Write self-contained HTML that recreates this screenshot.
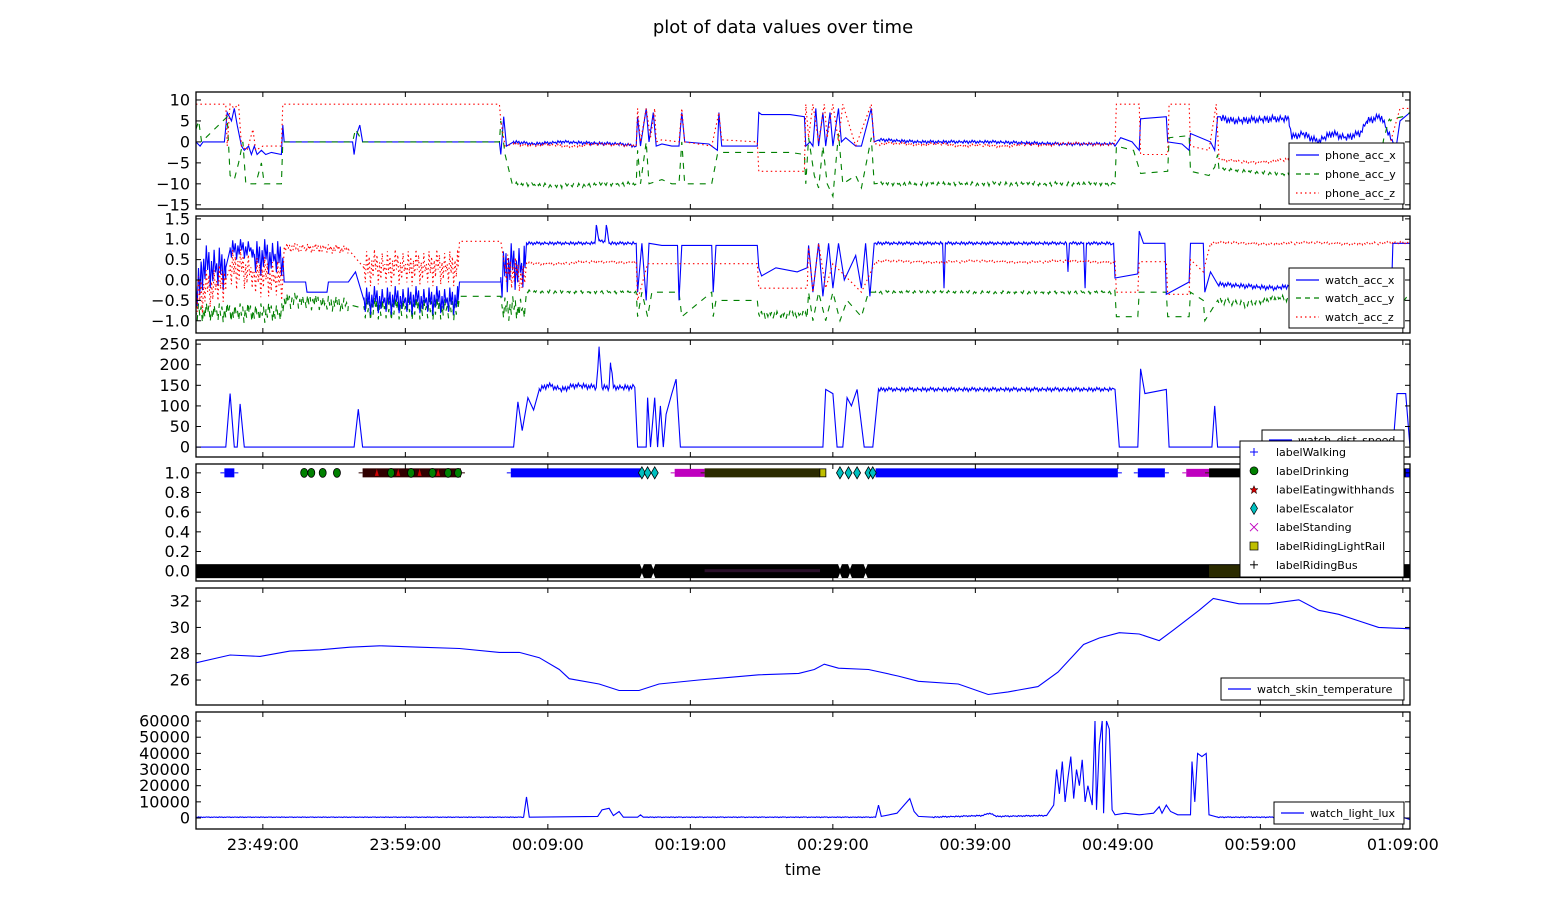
<!DOCTYPE html>
<html><head><meta charset="utf-8">
<style>
html,body{margin:0;padding:0;background:#fff;}
svg{display:block;font-family:"DejaVu Sans","Liberation Sans",sans-serif;}
</style></head>
<body>
<svg id="fig" width="1566" height="922" viewBox="0 0 1566 922" xmlns="http://www.w3.org/2000/svg">
<rect width="1566" height="922" fill="#fff"/>
<text x="783" y="33" font-size="18" text-anchor="middle">plot of data values over time</text>
<text x="803" y="875" font-size="16" text-anchor="middle">time</text>
<g id="root"></g>
</svg>
<script>
// ---- shared x axis ----
const xTickLabels = ["23:49:00","23:59:00","00:09:00","00:19:00","00:29:00","00:39:00","00:49:00","00:59:00","01:09:00"];
const xTickTimes = [9,19,29,39,49,59,69,79,89]; // minutes since 23:40
// ---- panel 1: phone acc ----
const phoneT = [4.3,4.6,4.8,6.3,6.5,6.8,7.0,7.2,7.5,7.7,8.0,8.2,8.4,8.6,8.9,9.2,9.6,10.3,10.4,10.5,15.3,15.4,15.6,15.8,16.0,25.6,25.7,25.9,26.1,26.6,28,30,32,34,35.2,35.3,35.5,35.9,36.1,36.4,36.6,37.0,37.7,38.2,38.4,38.6,40.3,40.9,41.0,41.2,42,43.7,43.8,44.0,46,47.0,47.1,47.4,47.6,47.8,48.0,48.3,48.5,48.8,49.0,49.4,49.6,49.9,50.6,51.0,51.7,51.9,52.3,55,60,65,68.7,68.8,69.2,70,70.5,70.6,72.4,72.5,73.5,74.0,74.1,75.5,75.8,76.0,77,80,81,81.2,82,83,84,85,86,86.5,87.5,88.0,88.5,88.8,89.5];
const phoneX = [0,-1,0,0,7,5,8,4,-1,-2,-1,-3,-1,-3,-2,-3,-2.5,-3,4,0,0,-3,2,4,0,0,-3,6,-1,0,-0.5,0,-0.3,-0.5,-1,6,-1,8,0,7,-1,-0.5,-1,-1,7,0,-0.5,-2,7,-1,-1,-1,7,6.5,6.5,6,-1,0,-1,8,-1,7,-1,7,-1,8,0,1,-1,-1,8,0,0.5,0,0,-0.5,-0.5,-1,1,0,-2,5.5,6,0,-0.5,-2,2,0,-2,6,5,5.5,5.5,1,2,0,2,1,2,5,6,2,-2,5,7];
const phoneYT = [4.3,4.5,4.7,5,6.5,6.7,7.0,7.3,7.6,7.8,8.5,8.9,9.1,10.3,10.4,15.3,15.5,16.0,25.6,25.7,26.0,26.5,30,34,35.2,35.3,35.5,35.9,36.1,37,37.7,38.2,38.4,38.6,40.5,40.9,41.2,46,47,47.1,47.3,47.7,48,48.3,48.6,49.0,49.4,49.7,50.6,51.0,51.7,51.9,55,60,65,68.8,68.9,70.1,70.6,72.5,72.6,74.0,74.1,75.4,75.8,76.0,76.1,78,82,86,87,88,89,89.5];
const phoneY = [3,5,0,1,6,-8,-9,-5,0,-10,-10,-5,-10,-10,0,0,3,0,0,5,-3,-10,-10.5,-10,-10,-2,-10,0,-10,-9,-10,-10,0,-10,-10,-3,-2.5,-2.5,-3,-10,1,-8,-11,-1,-10,-13,2,-10,-8,-11,1,-10,-10,-10,-10,-10,-1,-2,-7.5,-7,1,1.5,-7,-8,-6,-3,-6.5,-7,-8,-8,-8,5,6,7];
const phoneZT = [4.3,6.4,6.5,6.7,7.0,7.3,7.5,7.9,8.3,8.5,9.0,10.3,10.4,25.6,25.7,26.0,26.6,30,34,35.2,35.3,35.5,35.9,36.2,36.5,36.6,37,38.2,38.4,38.6,40.5,41,41.2,43.7,43.8,47,47.1,47.3,47.6,48,48.4,48.6,49,49.4,49.7,50.6,51.7,51.9,55,60,65,68.8,68.9,70.5,70.6,72.5,72.6,74.0,74.1,75.4,75.9,76.1,78,80,82,86,88,88.8,89.5];
const phoneZ = [9,9,-1,9,8,9,-1,-2,3,-2,-1,-1,9,9,5,-1,-0.5,-1,-0.5,-1,8,0,8,1,8,0,0.5,0,8,0,-1,7,0.5,0,-7,-7,9,1,9,0,9,1,9,0,9,-1,9,-0.5,-0.5,-1,-0.5,-0.5,9,9,-3,-3,9,9,-1,-2,9,-4,-5,-4.5,-4,-3,-2,8,8];
const phoneNoiseStart = [26.6,52.2,76.2];
const phoneNoiseEnd = [35.1,68.7,88.3];
const phoneXNoiseAmp = [0.4,0.4,0.9];
const phoneYNoiseAmp = [0.5,0.5,0.4];
const phoneZNoiseAmp = [0.4,0.4,0.4];
// ---- panel 2: watch acc ----
const watchXT = [4.3,4.6,4.7,6.4,6.7,8.3,8.4,10.4,10.5,12.0,12.1,13.5,13.6,15.0,15.5,16.1,22.7,22.8,25.7,26.0,27.4,27.5,32.3,32.4,32.6,33.0,33.1,33.3,35.2,35.3,35.6,35.9,36.1,37,38.1,38.2,38.4,40.5,40.6,40.8,43.7,43.8,44,45,46.5,47.2,47.3,47.6,48,48.3,48.7,49,49.4,49.8,50.6,51,51.3,51.6,51.9,56.7,56.8,56.9,65.4,65.5,65.6,66.6,66.7,66.8,68.7,68.8,70.4,70.5,70.8,72.3,72.4,74.0,74.1,75.0,75.1,75.5,76.0,78,80,81,84,86,88.2,88.3,89.5];
const watchX = [-0.2,-0.2,0.3,0.3,0.75,0.75,0.55,0.55,-0.05,-0.05,-0.3,-0.3,-0.05,-0.05,0.2,-0.5,-0.5,-0.05,-0.05,0.3,0.3,0.9,0.9,1.35,0.95,0.95,1.35,0.9,0.9,-0.3,0.9,-0.5,0.9,0.85,0.85,-0.5,0.85,0.85,-0.3,0.85,0.85,0.3,0.1,0.3,0.2,0.3,0.85,-0.3,0.9,-0.4,0.9,-0.2,0.9,0,0.6,-0.2,0.9,-0.4,0.9,0.9,-0.2,0.9,0.9,0.2,0.9,0.9,-0.2,0.9,0.9,0.05,0.15,1.2,0.9,0.9,-0.35,-0.05,0.9,0.9,-0.3,0.2,-0.1,-0.15,-0.2,-0.15,-0.2,-0.2,-0.25,0.9,0.9];
const watchXNoiseStart = [4.3,6.7,8.4,16.1,25.7,27.5,52.0,76.0];
const watchXNoiseEnd = [6.4,8.3,10.4,22.7,27.4,35.1,68.6,88.1];
const watchXNoiseAmp = [0.55,0.25,0.45,0.35,0.6,0.04,0.04,0.06];
const watchYT = [4.3,10.4,10.5,15,16.1,22.7,22.8,25.7,25.8,27.4,27.5,35.2,35.3,35.6,36,36.3,38.2,38.4,40.5,40.6,40.8,43.7,43.8,47.2,47.3,47.6,48.0,48.5,49,49.5,50,51,51.5,52,68.8,68.9,70.4,70.5,72.4,72.5,74,74.1,75,75.1,76,78,80,84,86,88,88.3,89.5];
const watchY = [-0.8,-0.8,-0.5,-0.6,-0.7,-0.7,-0.4,-0.4,-0.7,-0.7,-0.28,-0.3,-0.9,-0.3,-0.9,-0.3,-0.3,-0.9,-0.3,-0.9,-0.5,-0.5,-0.85,-0.85,-0.3,-1.0,-0.3,-1.0,-0.3,-1.0,-0.5,-0.9,-0.3,-0.3,-0.3,-0.9,-0.9,-0.3,-0.3,-0.9,-0.9,-0.3,-0.5,-1.0,-0.5,-0.6,-0.45,-0.45,-0.5,-0.3,-0.9,-0.3];
const watchYNoiseStart = [4.3,10.5,16.1,25.8,27.5,43.8,52.0,76.0];
const watchYNoiseEnd = [10.4,15,22.7,27.4,35.2,47.2,68.8,88.0];
const watchYNoiseAmp = [0.25,0.2,0.3,0.3,0.04,0.1,0.04,0.08];
const watchZT = [4.3,6.4,6.7,8.3,8.4,10.4,10.5,15,16.1,22.7,22.8,25.7,26,27.4,27.5,35.2,35.3,36,40.5,43.7,43.8,47.2,47.3,47.6,48,48.5,49,51,52,68.8,68.9,70.4,70.5,72.4,72.5,74,74.1,75,75.5,89.5];
const watchZ = [-0.4,0,0.3,0.2,0.1,0,0.8,0.75,0.3,0.3,0.95,0.95,0.3,0,0.4,0.45,-0.5,0.4,0.4,0.4,-0.2,-0.2,0.8,-0.3,0.9,-0.2,0.4,-0.3,0.45,0.45,-0.3,-0.3,0.45,0.45,-0.35,-0.35,0.5,0.2,0.9,0.9];
const watchZNoiseStart = [4.3,6.7,8.4,10.5,16.1,26,27.5,52,75.5];
const watchZNoiseEnd = [6.4,8.3,10.4,15,22.7,27.4,35.2,68.8,89.5];
const watchZNoiseAmp = [0.5,0.5,0.5,0.12,0.45,0.4,0.04,0.04,0.04];
// ---- panel 3: speed ----
const speedT = [4.3,6.4,6.7,7.0,7.2,7.4,7.7,15.4,15.7,16.0,26.6,26.9,27.2,27.6,28,28.4,29,30,31,32.4,32.6,32.8,33.3,33.4,33.6,35.1,35.3,35.9,36.0,36.2,36.5,36.7,36.9,37.1,37.3,37.7,38.0,38.3,48.3,48.5,49.0,49.3,49.7,50.0,50.3,50.7,51.2,51.8,52.2,68.8,69.1,70.4,70.6,70.9,72.4,72.6,75.6,75.8,76.0,88.3,88.6,89.2,89.5];
const speedV = [0,0,130,0,0,105,0,0,92,0,0,110,40,120,90,140,150,140,150,145,240,145,145,205,145,145,0,0,120,0,120,0,100,0,80,130,165,0,0,140,130,0,0,120,100,140,0,0,140,140,0,0,190,130,140,0,0,100,0,0,130,130,0];
const speedNoiseStart = [28.4,52.2];
const speedNoiseEnd = [35.0,68.7];
const speedNoiseAmp = [7,5];
// ---- panel 4: labels ----
const labelNames = ["labelWalking","labelDrinking","labelEatingwithhands","labelEscalator","labelStanding","labelRidingLightRail","labelRidingBus"];
const intervalLabel = [0,2,0,4,6,0,0,4,6];
const intervalStart = [6.3,16.0,26.4,37.9,40.0,52.0,70.4,73.8,75.4];
const intervalEnd = [7.0,22.9,35.5,40.0,48.1,69.0,72.3,75.4,89.5];
const pointLabel = [1,1,1,1,1,1,1,1,1,3,3,3,5,3,3,3,3,3];
const pointTime = [11.9,12.4,13.2,14.2,18.0,19.4,20.9,22.0,22.7,35.6,36.0,36.5,48.3,49.5,50.1,50.7,51.5,51.8];
const zeroGapTimes = [35.6,36.4,49.5,50.2,51.3];
// ---- panel 5: skin temperature ----
const tempT = [4.3,6.7,8.8,10.9,13.0,15.1,17.2,20.0,22.8,25.6,27.0,28.4,29.8,30.5,32.6,34.0,35.4,36.8,39.6,41.7,43.8,46.6,47.7,48.4,49.4,51.5,53.6,55.0,57.8,59.9,61.3,63.4,64.8,66.6,67.7,69.1,70.5,71.9,72.9,74.7,75.7,77.5,79.6,81.7,83.1,84.5,85.9,87.3,89.5];
const tempV = [27.3,27.9,27.8,28.2,28.3,28.5,28.6,28.5,28.4,28.1,28.1,27.7,26.8,26.1,25.7,25.2,25.2,25.7,26.0,26.2,26.4,26.5,26.8,27.2,26.9,26.8,26.3,25.9,25.7,24.9,25.1,25.5,26.6,28.7,29.2,29.6,29.5,29.0,29.8,31.3,32.2,31.8,31.8,32.1,31.3,31.0,30.5,30.0,29.9];
// ---- panel 6: light ----
const luxT = [4.3,27.3,27.5,27.7,32.5,32.8,33.3,33.6,34,34.3,35.3,35.5,35.7,52.0,52.2,52.4,53.5,54,54.4,54.7,55.0,56,59.5,60,60.5,64,64.5,64.7,64.9,65.1,65.3,65.5,65.7,65.9,66.1,66.3,66.5,66.7,66.9,67.2,67.4,67.5,67.7,67.9,68.0,68.2,68.4,68.6,68.8,69.5,70.5,71.5,71.9,72.1,72.4,72.7,73.2,74.1,74.2,74.4,74.6,74.9,75.2,75.4,76,89.0,89.5];
const luxV = [500,500,13000,500,1000,5000,6000,1500,4000,500,500,2000,500,500,8000,1000,3000,8000,12000,4000,1000,500,1500,3000,1000,1500,8000,30000,15000,35000,10000,25000,38000,12000,30000,20000,36000,10000,20000,8000,60000,5000,45000,60000,3000,60000,55000,5000,2000,3000,2000,3000,7000,3000,8000,4000,2000,2000,35000,10000,40000,38000,40000,2000,500,500,-1000];
const luxNoiseStart = [4.3,36,56,76];
const luxNoiseEnd = [27.2,51.9,63.9,89];
const luxNoiseAmp = [200,250,400,300];

const jitter = [0.2,-0.8,0.9,-0.3,0.6,-1,0.4,-0.5,1,-0.1,0.7,-0.9,0.3,-0.6,0.8,-0.2];
const NS = "http://www.w3.org/2000/svg";
const root = document.getElementById('root');
const X0 = 196, X1 = 1410;
function xs(t){ return 134.6 + t*14.25; }
const panels = [
 {top:92,bot:209,min:-16,max:11.9,ticks:[10,5,0,-5,-10,-15],fmt:v=>(v<0?'\u2212'+(-v):String(v))},
 {top:216,bot:333,min:-1.3,max:1.57,ticks:[1.5,1.0,0.5,0.0,-0.5,-1.0],fmt:v=>(v<0?'\u2212'+(-v).toFixed(1):v.toFixed(1))},
 {top:340,bot:457,min:-24,max:260,ticks:[250,200,150,100,50,0],fmt:v=>String(v)},
 {top:464,bot:581,min:-0.1,max:1.09,ticks:[1.0,0.8,0.6,0.4,0.2,0.0],fmt:v=>v.toFixed(1)},
 {top:588,bot:705,min:24.1,max:33.0,ticks:[32,30,28,26],fmt:v=>String(v)},
 {top:712,bot:829,min:-6800,max:65600,ticks:[60000,50000,40000,30000,20000,10000,0],fmt:v=>String(v)}
];
function ys(p,v){ return p.top + (p.max - v)/(p.max - p.min)*(p.bot - p.top); }
function el(tag, attrs, parent){ const e=document.createElementNS(NS,tag); for(const k in attrs) e.setAttribute(k,attrs[k]); (parent||root).appendChild(e); return e; }
function interp(T,V,t){ if(t<=T[0]) return V[0]; for(let i=1;i<T.length;i++){ if(t<=T[i]){ const f=(t-T[i-1])/((T[i]-T[i-1])||1e-9); return V[i-1]+f*(V[i]-V[i-1]); } } return V[V.length-1]; }
function seriesPath(p,T,V,nS,nE,nA){
  let pts=[];
  for(let i=0;i<T.length;i++) pts.push([T[i],V[i]]);
  const step=1.3/14.25;
  for(let k=0;k<nS.length;k++){ let j=0; for(let t=nS[k];t<nE[k];t+=step){ pts.push([t, interp(T,V,t)+nA[k]*jitter[(j++)%jitter.length]]); } }
  pts.sort((a,b)=>a[0]-b[0]);
  return pts.map((q,i)=>(i?'L':'M')+xs(q[0]).toFixed(1)+' '+ys(p,q[1]).toFixed(1)).join('');
}
const defs = el('defs',{});
panels.forEach((p,i)=>{ const c=el('clipPath',{id:'clip'+i},defs); el('rect',{x:X0,y:p.top,width:X1-X0,height:p.bot-p.top},c); });
const BLUE='#0000ff', GREEN='#008000', RED='#ff0000';
function addLine(pi,name,d,color,dash,w){
  const e=el('path',{d:d,fill:'none',stroke:color,'stroke-width':w||1.1,'clip-path':'url(#clip'+pi+')'});
  if(dash) e.setAttribute('stroke-dasharray',dash);
  
  
  return e;
}
addLine(0,'phone-acc-x-line',seriesPath(panels[0],phoneT,phoneX,phoneNoiseStart,phoneNoiseEnd,phoneXNoiseAmp),BLUE);
addLine(0,'phone-acc-y-line',seriesPath(panels[0],phoneYT,phoneY,phoneNoiseStart,phoneNoiseEnd,phoneYNoiseAmp),GREEN,'6 6');
addLine(0,'phone-acc-z-line',seriesPath(panels[0],phoneZT,phoneZ,phoneNoiseStart,phoneNoiseEnd,phoneZNoiseAmp),RED,'1.5 3');
addLine(1,'watch-acc-y-line',seriesPath(panels[1],watchYT,watchY,watchYNoiseStart,watchYNoiseEnd,watchYNoiseAmp),GREEN,'6 6');
addLine(1,'watch-acc-x-line',seriesPath(panels[1],watchXT,watchX,watchXNoiseStart,watchXNoiseEnd,watchXNoiseAmp),BLUE);
addLine(1,'watch-acc-z-line',seriesPath(panels[1],watchZT,watchZ,watchZNoiseStart,watchZNoiseEnd,watchZNoiseAmp),RED,'1.5 3');
addLine(2,'watch-dist-speed-line',seriesPath(panels[2],speedT,speedV,speedNoiseStart,speedNoiseEnd,speedNoiseAmp),BLUE);
(function(){
  const p=panels[3], g=el('g',{'clip-path':'url(#clip3)'});
  
  
  const y0=ys(p,0), y1=ys(p,1);
  const zb=el('rect',{x:X0,y:y0-7,width:X1-X0,height:14,fill:'#000'},g);
  
  
  el('rect',{x:xs(40),y:y0-2,width:xs(48.1)-xs(40),height:3,fill:'#2a0f2a'},g);
  el('rect',{x:xs(75.4),y:y0-6,width:xs(77.6)-xs(75.4),height:12,fill:'#2b2b00'},g);
  zeroGapTimes.forEach(t=>{ el('polygon',{points:`${xs(t)-2},${y0-7} ${xs(t)+2},${y0-7} ${xs(t)},${y0-2}`,fill:'#fff'},g); el('polygon',{points:`${xs(t)-2},${y0+7} ${xs(t)+2},${y0+7} ${xs(t)},${y0+2}`,fill:'#fff'},g); });
  const colors=[BLUE,'#006400','#300000','#00bfbf','#bf00bf','#bfbf00','#2b2b00'];
  intervalLabel.forEach((li,i)=>{
    const xa=xs(intervalStart[i]), xb=xs(intervalEnd[i]);
    const r=el('rect',{x:xa,y:y1-4.5,width:xb-xa,height:9,fill:colors[li]},g);
    if(li===4){ r.setAttribute('y',y1-4); r.setAttribute('height',8); }
    if(li===6 && intervalStart[i]>70) r.setAttribute('fill','#000');
    
    
    el('line',{x1:xa-4,x2:xa,y1:y1,y2:y1,stroke:colors[li],'stroke-width':1},g);
    el('line',{x1:xb,x2:xb+4,y1:y1,y2:y1,stroke:colors[li],'stroke-width':1},g);
  });
  [17.0,18.5,20.0,21.3].forEach(t=>el('polygon',{points:`${xs(t)},${y1-4} ${xs(t)+2},${y1+3} ${xs(t)-2},${y1+3}`,fill:'#d00000'},g));
  pointTime.forEach((t,i)=>{
    const li=pointLabel[i], cx=xs(t);
    let m;
    if(li===1) m=el('ellipse',{cx:cx,cy:y1,rx:3.5,ry:4.5,fill:'#008000',stroke:'#000','stroke-width':0.8},g);
    else if(li===3) m=el('polygon',{points:`${cx},${y1-6} ${cx+3.5},${y1} ${cx},${y1+6} ${cx-3.5},${y1}`,fill:'#00bfbf',stroke:'#000','stroke-width':0.8},g);
    else m=el('rect',{x:cx-3,y:y1-4,width:6,height:8,fill:'#bfbf00',stroke:'#000','stroke-width':0.8},g);
    
    
  });
  el('line',{x1:xs(89.2),x2:xs(89.5),y1:y1,y2:y1,stroke:BLUE,'stroke-width':8},g);
})();
addLine(4,'watch-skin-temperature-line',seriesPath(panels[4],tempT,tempV,[],[],[]),BLUE);
addLine(5,'watch-light-lux-line',seriesPath(panels[5],luxT,luxV,luxNoiseStart,luxNoiseEnd,luxNoiseAmp),BLUE);

panels.forEach((p,pi)=>{
  const g=el('g',{});
  
  
  el('rect',{x:X0,y:p.top,width:X1-X0,height:p.bot-p.top,fill:'none',stroke:'#000','stroke-width':1.3},g);
  xTickTimes.forEach(t=>{ const x=xs(t); el('line',{x1:x,x2:x,y1:p.top,y2:p.top+5,stroke:'#000'},g); el('line',{x1:x,x2:x,y1:p.bot,y2:p.bot-5,stroke:'#000'},g); });
  p.ticks.forEach(v=>{
    const y=ys(p,v);
    el('line',{x1:X0,x2:X0+5,y1:y,y2:y,stroke:'#000'},g);
    el('line',{x1:X1,x2:X1-5,y1:y,y2:y,stroke:'#000'},g);
    const tx=el('text',{x:190,y:y+5.5,'font-size':16,'text-anchor':'end'},g);
    tx.textContent=p.fmt(v);
    
    
  });
});
xTickTimes.forEach((t,i)=>{
  const tx=el('text',{x:xs(t),y:850,'font-size':16,'text-anchor':'middle'});
  tx.textContent=xTickLabels[i];
  
  
});
function legend(name,x,y,w,h,entries){
  const g=el('g',{});
  
  
  el('rect',{x:x,y:y,width:w,height:h,fill:'#fff',stroke:'#000','stroke-width':1},g);
  entries.forEach(e=>{
    if(e.line){ const l=el('line',{x1:x+7,x2:x+30,y1:e.y,y2:e.y,stroke:e.color,'stroke-width':1.2},g); if(e.dash) l.setAttribute('stroke-dasharray',e.dash); }
    if(e.mk) e.mk(g,x+14,e.y);
    const t=el('text',{x:x+e.tx,y:e.y+4,'font-size':11},g);
    t.textContent=e.label;
    
    
  });
}
legend('legend-phone-acc',1289,143,115,61,[
 {line:1,color:BLUE,y:155,tx:36,label:'phone_acc_x'},
 {line:1,color:GREEN,dash:'5 4',y:174,tx:36,label:'phone_acc_y'},
 {line:1,color:RED,dash:'1.5 3',y:193,tx:36,label:'phone_acc_z'}]);
legend('legend-watch-acc',1289,268,115,60,[
 {line:1,color:BLUE,y:280,tx:36,label:'watch_acc_x'},
 {line:1,color:GREEN,dash:'5 4',y:298,tx:36,label:'watch_acc_y'},
 {line:1,color:RED,dash:'1.5 3',y:317,tx:36,label:'watch_acc_z'}]);
legend('legend-watch-dist-speed',1262,430,142,30,[
 {line:1,color:BLUE,y:440,tx:36,label:'watch_dist_speed'}]);
const mk=[
 (g,x,y)=>{el('line',{x1:x-4,x2:x+4,y1:y,y2:y,stroke:BLUE},g);el('line',{x1:x,x2:x,y1:y-4,y2:y+4,stroke:BLUE},g);},
 (g,x,y)=>el('circle',{cx:x,cy:y,r:4,fill:'#008000',stroke:'#000','stroke-width':0.7},g),
 (g,x,y)=>el('polygon',{points:`${x},${y-4} ${x+1.2},${y-1} ${x+4},${y-1} ${x+1.8},${y+1} ${x+2.6},${y+4} ${x},${y+2} ${x-2.6},${y+4} ${x-1.8},${y+1} ${x-4},${y-1} ${x-1.2},${y-1}`,fill:'#d00000',stroke:'#000','stroke-width':0.5},g),
 (g,x,y)=>el('polygon',{points:`${x},${y-6} ${x+3.5},${y} ${x},${y+6} ${x-3.5},${y}`,fill:'#00bfbf',stroke:'#000','stroke-width':0.7},g),
 (g,x,y)=>{el('line',{x1:x-4,x2:x+4,y1:y-4,y2:y+4,stroke:'#bf00bf'},g);el('line',{x1:x-4,x2:x+4,y1:y+4,y2:y-4,stroke:'#bf00bf'},g);},
 (g,x,y)=>el('rect',{x:x-4,y:y-4,width:8,height:8,fill:'#bfbf00',stroke:'#000','stroke-width':0.7},g),
 (g,x,y)=>{el('line',{x1:x-4,x2:x+4,y1:y,y2:y,stroke:'#000'},g);el('line',{x1:x,x2:x,y1:y-4,y2:y+4,stroke:'#000'},g);}
];
legend('legend-labels',1240,441,164,136,labelNames.map((n,i)=>({mk:mk[i],y:452+i*18.8,tx:36,label:n})));
legend('legend-skin-temperature',1221,678,183,22,[{line:1,color:BLUE,y:689,tx:36,label:'watch_skin_temperature'}]);
legend('legend-light-lux',1274,802,130,22,[{line:1,color:BLUE,y:813,tx:36,label:'watch_light_lux'}]);
</script>
</body></html>
